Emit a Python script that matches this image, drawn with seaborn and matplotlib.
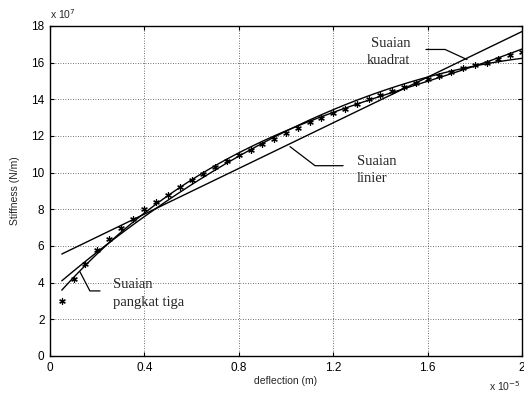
import numpy as np
import pandas as pd
import matplotlib
matplotlib.use("Agg")
import matplotlib.pyplot as plt
import seaborn as sns

# Measured deflection (x 1e-5 m) and stiffness (x 1e7 N/m)
deflection = [0.05, 0.10, 0.15, 0.20, 0.25, 0.30, 0.35, 0.40, 0.45, 0.50,
              0.55, 0.60, 0.65, 0.70, 0.75, 0.80, 0.85, 0.90, 0.95, 1.00,
              1.05, 1.10, 1.15, 1.20, 1.25, 1.30, 1.35, 1.40, 1.45, 1.50,
              1.55, 1.60, 1.65, 1.70, 1.75, 1.80, 1.85, 1.90, 1.95, 2.00]
stiffness = [3.0, 4.2, 5.0, 5.8, 6.4, 7.0, 7.5, 8.0, 8.4, 8.8,
             9.2, 9.6, 9.95, 10.3, 10.65, 10.95, 11.25, 11.55, 11.85, 12.15,
             12.45, 12.75, 13.0, 13.25, 13.5, 13.75, 14.0, 14.25, 14.45, 14.7,
             14.9, 15.1, 15.3, 15.5, 15.7, 15.85, 16.0, 16.2, 16.4, 16.6]

x_ticks = [0, 0.4, 0.8, 1.2, 1.6, 2]
x_tick_labels = ["0", "0.4", "0.8", "1.2", "1.6", "2"]
y_ticks = [0, 2, 4, 6, 8, 10, 12, 14, 16, 18]

df = pd.DataFrame({"deflection": deflection, "stiffness": stiffness})

sns.set_theme(style="white")
plt.rcParams["font.family"] = ["Liberation Sans", "DejaVu Sans"]

fig = plt.figure(figsize=(5.24, 3.93), dpi=100)
ax = fig.add_axes([50 / 524, 1 - 356 / 393, 472 / 524, 330 / 393])

# measured points
sns.scatterplot(data=df, x="deflection", y="stiffness", ax=ax,
                marker=(6, 2, 0), s=16, color="black", linewidth=0.9,
                edgecolor="black", zorder=3)

# polynomial fits: linear, quadratic, cubic
for order in (1, 2, 3):
    sns.regplot(data=df, x="deflection", y="stiffness", ax=ax, order=order,
                scatter=False, ci=None, truncate=True,
                line_kws=dict(color="black", lw=1.0, zorder=2))

ax.set_xlim(0, 2)
ax.set_ylim(0, 18)
ax.set_xticks(x_ticks)
ax.set_xticklabels(x_tick_labels)
ax.set_yticks(y_ticks)
ax.grid(True, color="0.25", linestyle=(0, (1, 2)), linewidth=0.6)
for sp in ax.spines.values():
    sp.set_color("black")
    sp.set_linewidth(1.0)
ax.tick_params(direction="in", length=3, width=0.8, colors="black",
               labelsize=8.5, pad=4, top=True, right=True, bottom=True, left=True)
ax.tick_params(axis="x", labeltop=False)
ax.tick_params(axis="y", labelright=False)

ax.set_xlabel("deflection (m)", fontsize=7.5, labelpad=2)
ax.set_ylabel("Stiffness (N/m)", fontsize=7.5, labelpad=8)

# axis scale factors
fig.text(50 / 524, 1 - 14 / 393, r"x 10$^{7}$", fontsize=7.5, ha="left", va="center")
fig.text(521 / 524, 1 - 386 / 393, r"x 10$^{-5}$", fontsize=7.5, ha="right", va="center")

serif = ["Liberation Serif", "DejaVu Serif"]
lead = dict(color="black", lw=0.9)

# Suaian kuadrat
ax.plot([1.593, 1.674, 1.767], [16.72, 16.72, 16.17], **lead)
ax.text(1.36, 17.05, "Suaian", family=serif, fontsize=10.5, ha="left", va="center")
ax.text(1.34, 16.12, "kuadrat", family=serif, fontsize=10.5, ha="left", va="center")

# Suaian linier
ax.plot([1.017, 1.123, 1.242], [11.42, 10.38, 10.38], **lead)
ax.text(1.30, 10.6, "Suaian", family=serif, fontsize=10.5, ha="left", va="center")
ax.text(1.30, 9.7, "linier", family=serif, fontsize=10.5, ha="left", va="center")

# Suaian pangkat tiga
ax.plot([0.212, 0.169, 0.127], [3.55, 3.55, 4.59], **lead)
ax.text(0.267, 3.88, "Suaian", family=serif, fontsize=10.5, ha="left", va="center")
ax.text(0.267, 2.9, "pangkat tiga", family=serif, fontsize=10.5, ha="left", va="center")

fig.savefig("out.png", dpi=100)
